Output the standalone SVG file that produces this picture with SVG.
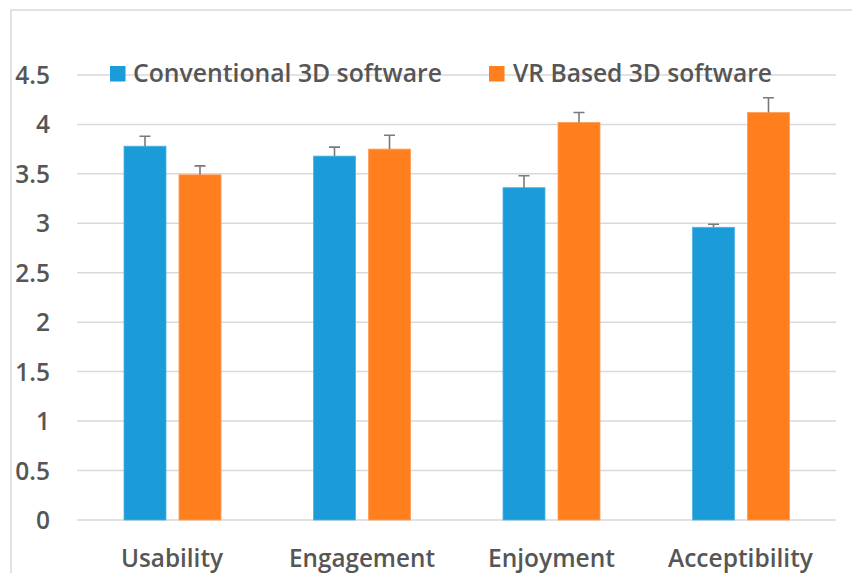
<svg xmlns="http://www.w3.org/2000/svg" width="852" height="573" viewBox="0 0 852 573">
<style>
.grid{stroke:#d9d9d9;stroke-width:1.5;fill:none}
.frame{stroke:#d9d9d9;stroke-width:1.5;fill:none}
.blue{fill:#1b9bd7;stroke:#4fb3e3;stroke-width:0.8}
.orange{fill:#ff7f1e;stroke:#ff9d55;stroke-width:0.8}
.err{stroke:#7a7a7a;stroke-width:1.6;fill:none}
text{font-family:"Open Sans","Liberation Sans",sans-serif;font-weight:600;fill:#565656}
.ylab{font-size:24.5px;text-anchor:end}
.xlab{font-size:25px;text-anchor:middle}
.leg{font-size:25px}
</style>
<rect width="852" height="573" fill="#ffffff"/>
<path class="frame" d="M11,573 V10 H852"/>
<g id="gridlines">
<line class="grid" x1="77" x2="836" y1="520" y2="520"/>
<line class="grid" x1="77" x2="836" y1="470.5" y2="470.5"/>
<line class="grid" x1="77" x2="836" y1="421.1" y2="421.1"/>
<line class="grid" x1="77" x2="836" y1="371.6" y2="371.6"/>
<line class="grid" x1="77" x2="836" y1="322.2" y2="322.2"/>
<line class="grid" x1="77" x2="836" y1="272.7" y2="272.7"/>
<line class="grid" x1="77" x2="836" y1="223.3" y2="223.3"/>
<line class="grid" x1="77" x2="836" y1="173.8" y2="173.8"/>
<line class="grid" x1="77" x2="836" y1="124.4" y2="124.4"/>
<line class="grid" x1="77" x2="836" y1="74.9" y2="74.9"/>
</g>
<g id="y-axis-labels">
<text class="ylab" x="50" y="529">0</text>
<text class="ylab" x="50" y="479.5">0.5</text>
<text class="ylab" x="50" y="430">1</text>
<text class="ylab" x="50" y="380.6">1.5</text>
<text class="ylab" x="50" y="331.2">2</text>
<text class="ylab" x="50" y="281.7">2.5</text>
<text class="ylab" x="50" y="232.3">3</text>
<text class="ylab" x="50" y="182.8">3.5</text>
<text class="ylab" x="50" y="133.4">4</text>
<text class="ylab" x="50" y="83.9">4.5</text>
</g>
<g id="legend">
<rect x="110" y="66" width="15.5" height="15.5" fill="#1b9bd7"/>
<text class="leg" x="133" y="82" textLength="309" lengthAdjust="spacingAndGlyphs">Conventional 3D software</text>
<rect x="489" y="66" width="15.5" height="15.5" fill="#ff7f1e"/>
<text class="leg" x="513" y="82" textLength="259" lengthAdjust="spacingAndGlyphs">VR Based 3D software</text>
</g>
<g id="usability">
<rect class="blue" x="124" y="146.2" width="42" height="373.8"/>
<rect class="orange" x="179" y="174.8" width="42" height="345.2"/>
<path class="err" d="M145,146.2 V136.3 M139.5,136.3 H150.5 M200,174.8 V165.9 M194.5,165.9 H205.5"/>
<text class="xlab" x="172" y="567" textLength="102" lengthAdjust="spacingAndGlyphs">Usability</text>
</g>
<g id="engagement">
<rect class="blue" x="313.5" y="156.1" width="42" height="363.9"/>
<rect class="orange" x="368.5" y="149.1" width="42" height="370.9"/>
<path class="err" d="M334.5,156.1 V147.1 M329,147.1 H340 M389.5,149.1 V135.3 M384,135.3 H395"/>
<text class="xlab" x="362" y="567" textLength="146" lengthAdjust="spacingAndGlyphs">Engagement</text>
</g>
<g id="enjoyment">
<rect class="blue" x="503" y="187.7" width="42" height="332.3"/>
<rect class="orange" x="558" y="122.4" width="42" height="397.6"/>
<path class="err" d="M524,187.7 V175.8 M518.5,175.8 H529.5 M579,122.4 V112.5 M573.5,112.5 H584.5"/>
<text class="xlab" x="551.5" y="567" textLength="127" lengthAdjust="spacingAndGlyphs">Enjoyment</text>
</g>
<g id="acceptibility">
<rect class="blue" x="692.5" y="227.3" width="42" height="292.7"/>
<rect class="orange" x="747.5" y="112.5" width="42" height="407.5"/>
<path class="err" d="M713.5,227.3 V224.3 M708,224.3 H719 M768.5,112.5 V97.7 M763,97.7 H774"/>
<text class="xlab" x="740.5" y="567" textLength="145" lengthAdjust="spacingAndGlyphs">Acceptibility</text>
</g>
</svg>
